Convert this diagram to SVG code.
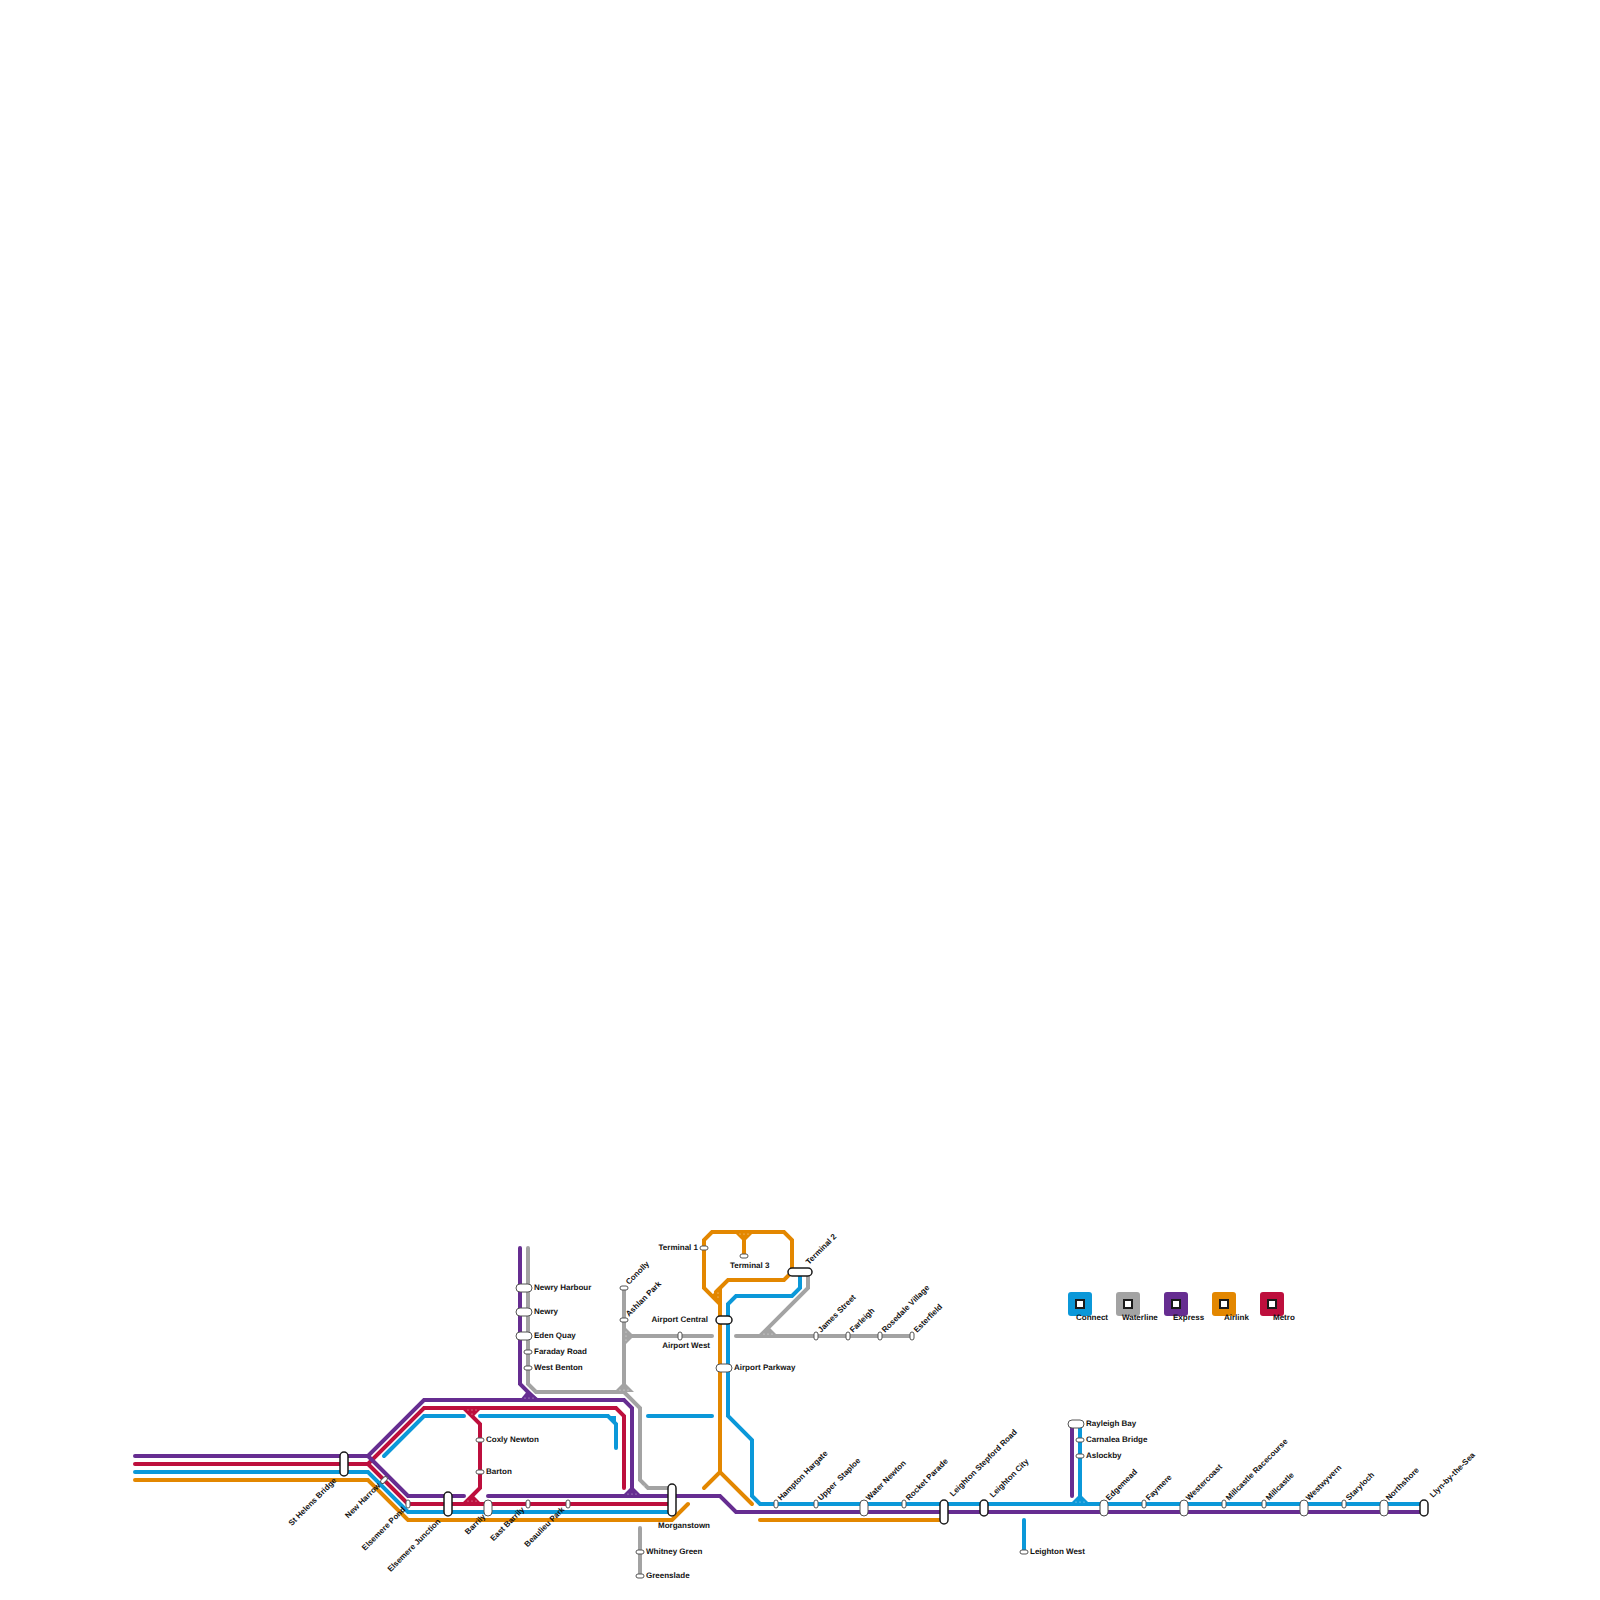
<svg xmlns="http://www.w3.org/2000/svg" width="1600" height="1600" viewBox="0 0 1600 1600">
<style>
text{font-family:"Liberation Sans",Arial,sans-serif;font-size:8px;font-weight:bold;fill:#111;text-rendering:geometricPrecision}
.e{text-anchor:end}
.l{fill:none;stroke-width:4;stroke-linecap:round;stroke-linejoin:miter}
.c{stroke:#0b98d9}.g{stroke:#a3a3a3}.p{stroke:#662d91}.a{stroke:#e38700}.m{stroke:#bd0f3d}
.fc{fill:#0b98d9}.fg{fill:#a3a3a3}.fp{fill:#662d91}.fa{fill:#e38700}.fm{fill:#bd0f3d}
.s{fill:#fff;stroke:#555;stroke-width:1}
.b{fill:#fff;stroke:#1a1a1a;stroke-width:1.5}
.d{fill:#fff;opacity:.7}
.k{fill:#fff;stroke:#1a1a1a;stroke-width:2}
</style>
<rect width="1600" height="1600" fill="#fff"/>
<g id="connectors">
<path class="l g" d="M528 1248V1384L536 1392H624L640 1408V1480L648 1488H672"/>
<path class="l g" d="M624 1288V1392"/>
<path class="l g" d="M624 1336H712"/>
<path class="l g" d="M736 1336H912"/>
<path class="l g" d="M808 1276V1288L760 1336"/>
<path class="l g" d="M640 1528V1576"/>
<polygon class="fg" points="624,1326 634,1336 624,1346"/>
<polygon class="fg" points="614,1392 624,1382 634,1392"/>
<polygon class="fg" points="758,1336 768,1326 778,1336"/>
<path class="l c" d="M135 1472H368L408 1512H672"/>
<path class="l c" d="M384 1456L424 1416H464"/>
<path class="l c" d="M480 1416H608L616 1424V1448"/>
<path class="l c" d="M648 1416H712"/>
<path class="l c" d="M800 1272V1288L792 1296H736L728 1304V1416L752 1440V1496L760 1504H1424"/>
<path class="l c" d="M1024 1520V1552"/>
<path class="l c" d="M1080 1424V1504"/>
<polygon class="fc" points="1070,1504 1080,1494 1090,1504"/>
<polygon class="fc" points="608,1416 616,1416 616,1424"/>
<path class="l a" d="M135 1480H368L408 1520H672L688 1504"/>
<path class="l a" d="M704 1488L720 1472L752 1504"/>
<path class="l a" d="M720 1472V1304L704 1288V1240L712 1232H784L792 1240V1272L784 1280H728L716 1292"/>
<path class="l a" d="M744 1232V1256"/>
<path class="l a" d="M760 1520H944"/>
<polygon class="fa" points="734,1232 754,1232 744,1242"/>
<polygon class="fa" points="711,1296 722,1285 722,1306"/>
<path class="l m" d="M135 1464H368L424 1408H616L624 1416V1488"/>
<path class="l m" d="M368 1464L408 1504H672"/>
<path class="l m" d="M464 1408L480 1424V1488L464 1504"/>
<polygon class="fm" points="462,1408 482,1408 472,1418"/>
<polygon class="fm" points="462,1504 472,1494 482,1504"/>
<path class="l p" d="M135 1456H368L424 1400H624L632 1408V1496"/>
<path class="l p" d="M368 1456L408 1496H464"/>
<path class="l p" d="M488 1496H720L736 1512H1424"/>
<path class="l p" d="M520 1248V1384L536 1400"/>
<path class="l p" d="M1072 1424V1496"/>
<polygon class="fp" points="520,1400 528,1390 540,1400"/>
<polygon class="fp" points="622,1496 632,1486 642,1496"/>
<circle class="d" cx="472" cy="1410" r=".6"/><circle class="d" cx="468" cy="1410" r=".6"/><circle class="d" cx="476" cy="1410" r=".6"/><circle class="d" cx="472" cy="1414" r=".6"/>
<circle class="d" cx="468" cy="1501" r=".6"/><circle class="d" cx="472" cy="1501" r=".6"/><circle class="d" cx="476" cy="1501" r=".6"/>
<circle class="d" cx="525" cy="1398" r=".6"/><circle class="d" cx="529" cy="1398" r=".6"/><circle class="d" cx="533" cy="1398" r=".6"/>
<circle class="d" cx="628" cy="1494" r=".6"/><circle class="d" cx="632" cy="1494" r=".6"/><circle class="d" cx="636" cy="1494" r=".6"/>
<circle class="d" cx="620" cy="1390" r=".6"/><circle class="d" cx="624" cy="1390" r=".6"/><circle class="d" cx="628" cy="1390" r=".6"/>
<circle class="d" cx="626" cy="1332" r=".6"/><circle class="d" cx="626" cy="1336" r=".6"/><circle class="d" cx="626" cy="1340" r=".6"/>
<circle class="d" cx="764" cy="1334" r=".6"/><circle class="d" cx="768" cy="1334" r=".6"/><circle class="d" cx="772" cy="1334" r=".6"/>
<circle class="d" cx="718" cy="1293" r=".6"/><circle class="d" cx="718" cy="1297" r=".6"/>
<circle class="d" cx="740" cy="1234" r=".6"/><circle class="d" cx="744" cy="1234" r=".6"/><circle class="d" cx="748" cy="1234" r=".6"/>
<circle class="d" cx="1076" cy="1502" r=".6"/><circle class="d" cx="1080" cy="1502" r=".6"/><circle class="d" cx="1084" cy="1502" r=".6"/>
<circle class="d" cx="640" cy="1484" r=".6"/><circle class="d" cx="644" cy="1486" r=".6"/>
</g>
<g id="st-helens-bridge"><rect class="b" x="340" y="1452" width="8" height="24" rx="4"/><text transform="translate(337 1481) rotate(-45)" class="e">St Helens Bridge</text></g>
<g id="new-harrow"><rect class="s" x="380" y="1478" width="8" height="4" rx="2" transform="rotate(-45 384 1480)"/><text transform="translate(381 1486) rotate(-45)" class="e">New Harrow</text></g>
<g id="elsemere-pond"><rect class="s" x="406" y="1500" width="4" height="8" rx="2"/><text transform="translate(406 1510) rotate(-45)" class="e">Elsemere Pond</text></g>
<g id="elsemere-junction"><rect class="b" x="444" y="1492" width="8" height="24" rx="4"/><text transform="translate(441 1522) rotate(-45)" class="e">Elsemere Junction</text></g>
<g id="barrily"><rect class="s" x="484" y="1500" width="8" height="16" rx="4"/><text transform="translate(486 1517) rotate(-45)" class="e">Barrily</text></g>
<g id="east-barrily"><rect class="s" x="526" y="1500" width="4" height="8" rx="2"/><text transform="translate(525 1510) rotate(-45)" class="e">East Barrily</text></g>
<g id="beaulieu-park"><rect class="s" x="566" y="1500" width="4" height="8" rx="2"/><text transform="translate(565 1510) rotate(-45)" class="e">Beaulieu Park</text></g>
<g id="morganstown"><rect class="b" x="668" y="1484" width="8" height="32" rx="4"/><text x="658" y="1528">Morganstown</text></g>
<g id="coxly-newton"><rect class="s" x="476" y="1438" width="8" height="4" rx="2"/><text x="486" y="1442">Coxly Newton</text></g>
<g id="barton"><rect class="s" x="476" y="1470" width="8" height="4" rx="2"/><text x="486" y="1474">Barton</text></g>
<g id="whitney-green"><rect class="s" x="636" y="1550" width="8" height="4" rx="2"/><text x="646" y="1554">Whitney Green</text></g>
<g id="greenslade"><rect class="s" x="636" y="1574" width="8" height="4" rx="2"/><text x="646" y="1578">Greenslade</text></g>
<g id="newry-harbour"><rect class="s" x="516" y="1284" width="16" height="8" rx="4"/><text x="534" y="1290">Newry Harbour</text></g>
<g id="newry"><rect class="s" x="516" y="1308" width="16" height="8" rx="4"/><text x="534" y="1314">Newry</text></g>
<g id="eden-quay"><rect class="s" x="516" y="1332" width="16" height="8" rx="4"/><text x="534" y="1338">Eden Quay</text></g>
<g id="faraday-road"><rect class="s" x="524" y="1350" width="8" height="4" rx="2"/><text x="534" y="1354">Faraday Road</text></g>
<g id="west-benton"><rect class="s" x="524" y="1366" width="8" height="4" rx="2"/><text x="534" y="1370">West Benton</text></g>
<g id="conolly"><rect class="s" x="620" y="1286" width="8" height="4" rx="2"/><text transform="translate(629 1285) rotate(-45)">Conolly</text></g>
<g id="ashlan-park"><rect class="s" x="620" y="1318" width="8" height="4" rx="2"/><text transform="translate(629 1317) rotate(-45)">Ashlan Park</text></g>
<g id="airport-west"><rect class="s" x="678" y="1332" width="4" height="8" rx="2"/><text x="710" y="1348" class="e">Airport West</text></g>
<g id="terminal-1"><rect class="s" x="700" y="1246" width="8" height="4" rx="2"/><text x="698" y="1250" class="e">Terminal 1</text></g>
<g id="terminal-3"><rect class="s" x="740" y="1254" width="8" height="4" rx="2"/><text x="730" y="1268">Terminal 3</text></g>
<g id="terminal-2"><rect class="b" x="788" y="1268" width="24" height="8" rx="4"/><text transform="translate(809 1265) rotate(-45)">Terminal 2</text></g>
<g id="airport-central"><rect class="b" x="716" y="1316" width="16" height="8" rx="4"/><text x="708" y="1322" class="e">Airport Central</text></g>
<g id="airport-parkway"><rect class="s" x="716" y="1364" width="16" height="8" rx="4"/><text x="734" y="1370">Airport Parkway</text></g>
<g id="james-street"><rect class="s" x="814" y="1332" width="4" height="8" rx="2"/><text transform="translate(821 1333) rotate(-45)">James Street</text></g>
<g id="farleigh"><rect class="s" x="846" y="1332" width="4" height="8" rx="2"/><text transform="translate(853 1333) rotate(-45)">Farleigh</text></g>
<g id="rosedale-village"><rect class="s" x="878" y="1332" width="4" height="8" rx="2"/><text transform="translate(885 1333) rotate(-45)">Rosedale Village</text></g>
<g id="esterfield"><rect class="s" x="910" y="1332" width="4" height="8" rx="2"/><text transform="translate(917 1333) rotate(-45)">Esterfield</text></g>
<g id="hampton-hargate"><rect class="s" x="774" y="1500" width="4" height="8" rx="2"/><text transform="translate(781 1501) rotate(-45)">Hampton Hargate</text></g>
<g id="upper-staploe"><rect class="s" x="814" y="1500" width="4" height="8" rx="2"/><text xml:space="preserve" transform="translate(821 1501) rotate(-45)">Upper  Staploe</text></g>
<g id="water-newton"><rect class="s" x="860" y="1500" width="8" height="16" rx="4"/><text transform="translate(869 1501) rotate(-45)">Water Newton</text></g>
<g id="rocket-parade"><rect class="s" x="902" y="1500" width="4" height="8" rx="2"/><text transform="translate(909 1501) rotate(-45)">Rocket Parade</text></g>
<g id="leighton-stepford-road"><rect class="b" x="940" y="1500" width="8" height="24" rx="4"/><text transform="translate(953 1497) rotate(-45)">Leighton Stepford Road</text></g>
<g id="leighton-city"><rect class="b" x="980" y="1500" width="8" height="16" rx="4"/><text transform="translate(993 1498) rotate(-45)">Leighton City</text></g>
<g id="leighton-west"><rect class="s" x="1020" y="1550" width="8" height="4" rx="2"/><text x="1030" y="1554">Leighton West</text></g>
<g id="rayleigh-bay"><rect class="s" x="1068" y="1420" width="16" height="8" rx="4"/><text x="1086" y="1426">Rayleigh Bay</text></g>
<g id="carnalea-bridge"><rect class="s" x="1076" y="1438" width="8" height="4" rx="2"/><text x="1086" y="1442">Carnalea Bridge</text></g>
<g id="aslockby"><rect class="s" x="1076" y="1454" width="8" height="4" rx="2"/><text x="1086" y="1458">Aslockby</text></g>
<g id="edgemead"><rect class="s" x="1100" y="1500" width="8" height="16" rx="4"/><text transform="translate(1109 1501) rotate(-45)">Edgemead</text></g>
<g id="faymere"><rect class="s" x="1142" y="1500" width="4" height="8" rx="2"/><text transform="translate(1149 1501) rotate(-45)">Faymere</text></g>
<g id="westercoast"><rect class="s" x="1180" y="1500" width="8" height="16" rx="4"/><text transform="translate(1189 1501) rotate(-45)">Westercoast</text></g>
<g id="milcastle-racecourse"><rect class="s" x="1222" y="1500" width="4" height="8" rx="2"/><text transform="translate(1229 1501) rotate(-45)">Millcastle Racecourse</text></g>
<g id="millcastle"><rect class="s" x="1262" y="1500" width="4" height="8" rx="2"/><text transform="translate(1269 1501) rotate(-45)">Millcastle</text></g>
<g id="westwyvern"><rect class="s" x="1300" y="1500" width="8" height="16" rx="4"/><text transform="translate(1309 1501) rotate(-45)">Westwyvern</text></g>
<g id="staryloch"><rect class="s" x="1342" y="1500" width="4" height="8" rx="2"/><text transform="translate(1349 1501) rotate(-45)">Staryloch</text></g>
<g id="northshore"><rect class="s" x="1380" y="1500" width="8" height="16" rx="4"/><text transform="translate(1389 1501) rotate(-45)">Northshore</text></g>
<g id="llyn-by-the-sea"><rect class="b" x="1420" y="1500" width="8" height="16" rx="4"/><text transform="translate(1433 1498) rotate(-45)">Llyn-by-the-Sea</text></g>
<g id="legend-connect"><rect class="fc" x="1068" y="1292" width="24" height="24" rx="3"/><rect class="k" x="1076" y="1300" width="8" height="8"/><text x="1076" y="1320">Connect</text></g>
<g id="legend-waterline"><rect class="fg" x="1116" y="1292" width="24" height="24" rx="3"/><rect class="k" x="1124" y="1300" width="8" height="8"/><text x="1122" y="1320">Waterline</text></g>
<g id="legend-express"><rect class="fp" x="1164" y="1292" width="24" height="24" rx="3"/><rect class="k" x="1172" y="1300" width="8" height="8"/><text x="1173" y="1320">Express</text></g>
<g id="legend-airlink"><rect class="fa" x="1212" y="1292" width="24" height="24" rx="3"/><rect class="k" x="1220" y="1300" width="8" height="8"/><text x="1224" y="1320">Airlink</text></g>
<g id="legend-metro"><rect class="fm" x="1260" y="1292" width="24" height="24" rx="3"/><rect class="k" x="1268" y="1300" width="8" height="8"/><text x="1273" y="1320">Metro</text></g>
</svg>
